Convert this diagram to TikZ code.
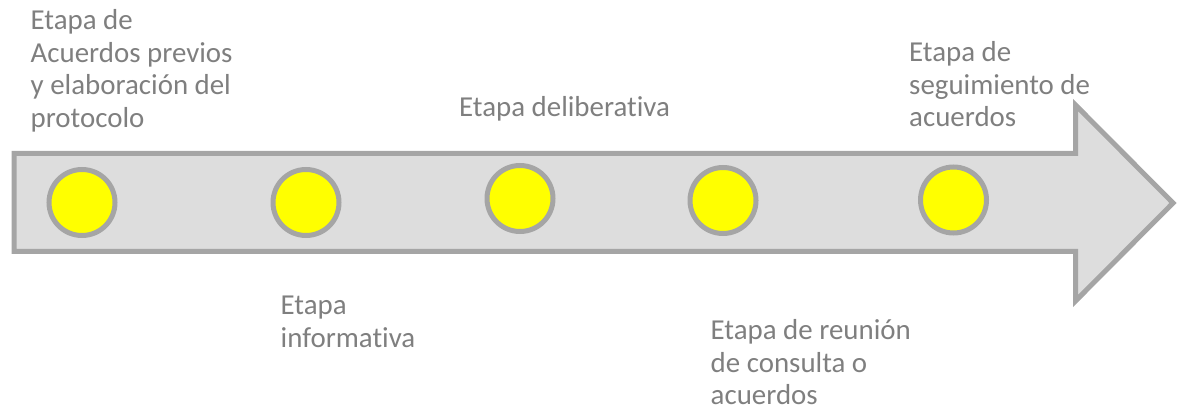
\documentclass[tikz,border=0pt]{standalone}
\usepackage{fontspec}
\setmainfont{Carlito}[Ligatures=NoCommon]
\definecolor{txtgray}{HTML}{7F7F7F}
\definecolor{arrowfill}{HTML}{DDDDDD}
\definecolor{edgegray}{HTML}{A5A5A5}
\definecolor{dotyellow}{HTML}{FFFF00}
\tikzset{
  label text/.style={anchor=base west, inner sep=0pt, text=txtgray,
    font=\fontsize{28.9}{32.5}\selectfont},
  big arrow/.style={fill=arrowfill, draw=edgegray, line width=5pt, line join=miter},
  dot/.style={circle, minimum size=66pt, inner sep=0pt, fill=dotyellow, draw=edgegray, line width=5pt}
}
\newcommand{\lines}[1]{\begin{tabular}[t]{@{}l@{}}#1\end{tabular}}
\begin{document}
\begin{tikzpicture}[x=1pt,y=-1pt]
\useasboundingbox (0,0) rectangle (1177,411);
% arrow body
\draw[big arrow] (14,153.5) -- (1075.5,153.5) -- (1075.5,105) -- (1173,203)
  -- (1075.5,301) -- (1075.5,251.5) -- (14,251.5) -- cycle;
% dots
\node[dot] (d1) at (82,202.5) {};
\node[dot] (d2) at (306,202.5) {};
\node[dot] (d3) at (520,198.5) {};
\node[dot] (d4) at (723,200.5) {};
\node[dot] (d5) at (953.5,200) {};
% labels
\node[label text] (t1) at (30.5,30) {\lines{Etapa de\\Acuerdos previos\\y elaboración del\\protocolo}};
\node[label text] (t2) at (280.5,315) {\lines{Etapa\\informativa}};
\node[label text] (t3) at (459,117) {Etapa deliberativa};
\node[label text] (t4) at (710.5,339.5) {\lines{Etapa de reunión\\de consulta o\\acuerdos}};
\node[label text] (t5) at (909,62) {\lines{Etapa de\\seguimiento de\\acuerdos}};
\end{tikzpicture}
\end{document}
